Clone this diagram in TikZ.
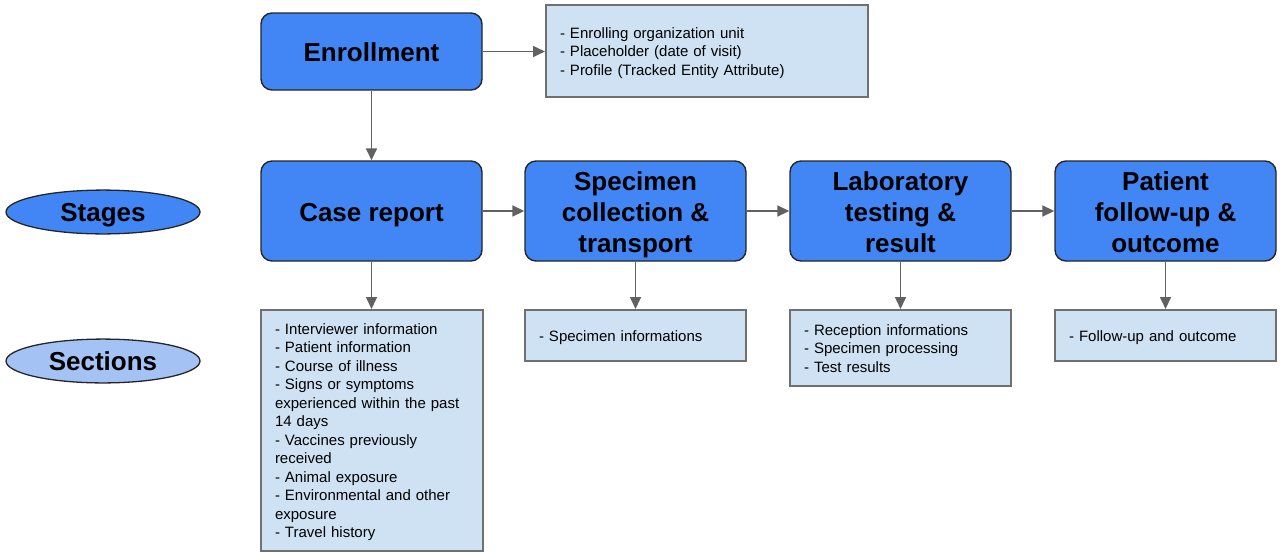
\documentclass[tikz,border=0pt]{standalone}
\usepackage{fontspec}
\setmainfont{Liberation Sans}
\usetikzlibrary{arrows.meta,shapes.geometric}
\definecolor{stageblue}{HTML}{4285F4}
\definecolor{secblue}{HTML}{A4C2F4}
\definecolor{boxfill}{HTML}{CFE2F3}
\definecolor{boxline}{HTML}{707070}
\definecolor{arrowgray}{HTML}{616161}
\definecolor{stageline}{HTML}{262626}
% lowered block of lines with uniform strut spacing
\newcommand{\mylines}[3]{\raisebox{-#1}[\height][\depth]{\begin{tabular}{@{}#2@{}}#3\end{tabular}}}
\tikzset{
  stagebox/.style={draw=stageline, line width=1.4pt, fill=stageblue, rounded corners=11pt,
    minimum width=221pt, minimum height=100pt, align=center, inner sep=0pt,
    font=\fontsize{26}{31}\selectfont\bfseries},
  infobox/.style={draw=boxline, line width=2pt, fill=boxfill, inner xsep=14pt, inner ysep=0pt,
    align=left, font=\fontsize{15}{18.5}\selectfont},
  legend/.style={ellipse, draw=stageline, line width=1.3pt, minimum width=194pt, minimum height=40pt,
    inner sep=0pt, font=\fontsize{26}{31}\selectfont\bfseries},
  conn/.style={draw=arrowgray, line width=1.6pt, -{Triangle[length=12pt,width=11pt]}, arrowgray}
}
\begin{document}
\begin{tikzpicture}[x=1pt,y=-1pt]
\useasboundingbox (0,0) rectangle (1285,557);
% stages
\node[stagebox, minimum height=77pt] (enroll) at (371.5,51.5) {\mylines{4pt}{c}{Enrollment}};
\node[stagebox] (case) at (371.5,211) {\mylines{4pt}{c}{Case report}};
\node[stagebox] (spec) at (635.5,211) {\mylines{4pt}{c}{Specimen\\collection \&\\transport}};
\node[stagebox] (lab) at (900.5,211) {\mylines{4pt}{c}{Laboratory\\testing \&\\result}};
\node[stagebox] (pat) at (1165.5,211) {\mylines{4pt}{c}{Patient\\follow-up \&\\outcome}};
% info boxes
\node[infobox, text width=294pt, minimum height=92pt] (enrinfo) at (707,51) {\mylines{2pt}{l}{- Enrolling organization unit\\- Placeholder (date of visit)\\- Profile (Tracked Entity Attribute)}};
\node[infobox, text width=194pt, minimum height=241pt] (casesec) at (372,430.5) {\mylines{2pt}{l}{- Interviewer information\\- Patient information\\- Course of illness\\- Signs or symptoms\\experienced within the past\\14 days\\- Vaccines previously\\received\\- Animal exposure\\- Environmental and other\\exposure\\- Travel history}};
\node[infobox, text width=193pt, minimum height=51pt] (specsec) at (635.5,335.5) {\mylines{2pt}{l}{- Specimen informations}};
\node[infobox, text width=193pt, minimum height=76pt] (labsec) at (900.5,348) {\mylines{2pt}{l}{- Reception informations\\- Specimen processing\\- Test results}};
\node[infobox, text width=193pt, minimum height=51pt] (patsec) at (1165.5,335.5) {\mylines{2pt}{l}{- Follow-up and outcome}};
% legend
\node[legend, fill=stageblue] (stages) at (103,212) {\mylines{3pt}{c}{Stages}};
\node[legend, fill=secblue] (sections) at (103,361) {\mylines{3pt}{c}{Sections}};
% connectors
\draw[conn] (enroll.east) -- (enrinfo.west |- enroll.east);
\draw[conn] (enroll.south) -- (case.north);
\draw[conn] (case.east) -- (spec.west);
\draw[conn] (spec.east) -- (lab.west);
\draw[conn] (lab.east) -- (pat.west);
\draw[conn] (case.south) -- (case.south |- casesec.north);
\draw[conn] (spec.south) -- (specsec.north);
\draw[conn] (lab.south) -- (labsec.north);
\draw[conn] (pat.south) -- (patsec.north);
\end{tikzpicture}
\end{document}
